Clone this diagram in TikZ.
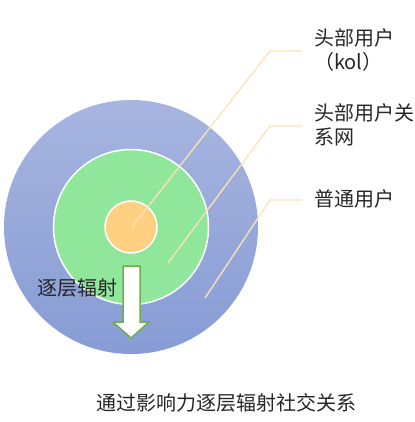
\documentclass[tikz,border=0pt]{standalone}
\usepackage{fontspec}
\setmainfont{Noto Sans CJK SC}
\usetikzlibrary{positioning}
\definecolor{outerblue}{HTML}{A7B5DF}
\definecolor{outerdeep}{HTML}{879CD5}
\definecolor{ringgreen}{HTML}{90E79B}
\definecolor{coreorange}{HTML}{FFD082}
\definecolor{leadline}{HTML}{FCE2B6}
\definecolor{arrowgreen}{HTML}{6FAE4E}
\tikzset{
  labeltext/.style={font=\fontsize{20}{24}\selectfont, inner sep=0pt, align=left, text=black!85},
  leader/.style={leadline, line width=1.3pt},
}
\begin{document}
\begin{tikzpicture}[x=1pt,y=-1pt]
        \useasboundingbox (0,0) rectangle (414,422);

        \coordinate (O) at (131,227);
        \node (outer) [circle, minimum size=254pt, inner sep=0pt, top color=outerblue, bottom color=outerdeep] at (O) {};
        \node (ring) [circle, minimum size=155pt, inner sep=0pt, fill=ringgreen, draw=white, line width=1.5pt] at (O) {};
        \node (core) [circle, minimum size=52pt, inner sep=0pt, fill=coreorange, draw=white, line width=1.5pt] at (O) {};

        \node (kol)  [labeltext, anchor=west] at (314,50)  {头部用户\\（kol）};
        \node (net)  [labeltext, anchor=west] at (314,125) {头部用户关\\系网};
        \node (user) [labeltext, anchor=west] at (314,199) {普通用户};

        \coordinate (p1) at (132,227);
        \coordinate (p2) at (168,263);
        \coordinate (p3) at (205,298);
        \coordinate (b1) at (270,51);
        \coordinate (b2) at (270,126);
        \coordinate (b3) at (270,200);
        \coordinate (e1) at (302,51);
        \coordinate (e2) at (302,126);
        \coordinate (e3) at (302,200);

        \draw [leader] (p1) -- (b1) -- (e1);
        \draw [leader] (p2) -- (b2) -- (e2);
        \draw [leader] (p3) -- (b3) -- (e3);

        \draw [arrowgreen, fill=white, line width=1.5pt, line join=miter]
          (123,266) -- (140,266) -- (140,322) -- (149,322) -- (131,338)
          -- (113,322) -- (123,322) -- cycle;

        \node (spread) [labeltext] at (77,288) {逐层辐射};
        \node (title)  [labeltext] at (226,403) {通过影响力逐层辐射社交关系};
      \end{tikzpicture}
\end{document}
